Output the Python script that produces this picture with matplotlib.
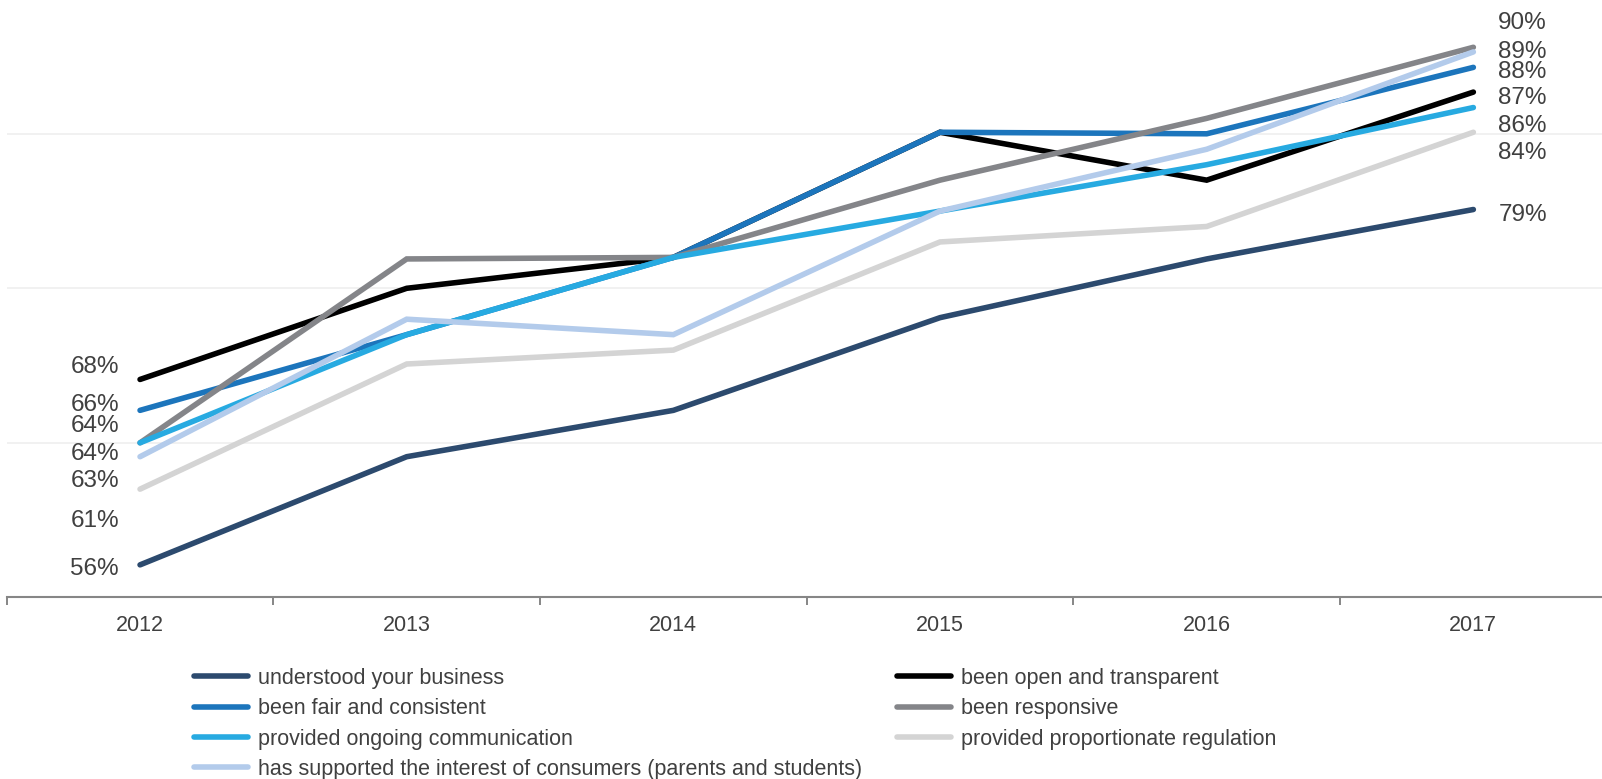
import matplotlib
matplotlib.use("Agg")
import matplotlib.pyplot as plt
from matplotlib.lines import Line2D

plt.rcParams['font.family'] = ['Liberation Sans', 'DejaVu Sans']

years = ["2012", "2013", "2014", "2015", "2016", "2017"]

understood_business = [0.561, 0.631, 0.661, 0.721, 0.759, 0.791]
open_transparent = [0.681, 0.740, 0.760, 0.841, 0.810, 0.867]
fair_consistent = [0.661, 0.710, 0.760, 0.841, 0.840, 0.883]
responsive = [0.640, 0.759, 0.760, 0.810, 0.850, 0.896]
ongoing_communication = [0.640, 0.710, 0.760, 0.790, 0.820, 0.857]
proportionate_regulation = [0.610, 0.691, 0.700, 0.770, 0.780, 0.841]
consumer_interest = [0.631, 0.720, 0.710, 0.790, 0.830, 0.893]

# series in drawing order: (values, legend text, colour,
#  left label shift px, right label shift px)
series = [
    (understood_business, "understood your business", "#2C4A6E", -4, -5),
    (open_transparent, "been open and transparent", "#000000", 12, -6),
    (fair_consistent, "been fair and consistent", "#1C75BC", 5, -5),
    (responsive, "been responsive", "#848589", 17, 24),
    (ongoing_communication, "provided ongoing communication", "#27AAE1", -11, -18),
    (proportionate_regulation, "provided proportionate regulation", "#D4D4D4", -32, -21),
    (consumer_interest, "has supported the interest of consumers (parents and students)",
     "#B3CBEB", -24, 0),
]

W, H = 1602, 779
LW = 4.0
fig = plt.figure(figsize=(W / 100, H / 100), dpi=100)
ax_left = 6.7 / W
ax_bottom = (H - 597.3) / H
ax = fig.add_axes([ax_left, ax_bottom, 1600 / W, 0.39 * 1545 / H])

x = list(range(len(years)))
handles = {}
for vals, name, color, dl, dr in series:
    ln, = ax.plot(x, vals, color=color, lw=LW, solid_capstyle='round',
                  solid_joinstyle='miter', label=name, clip_on=False)
    handles[name] = ln
    ax.annotate(f"{round(vals[0] * 100)}%", (x[0], vals[0]), xytext=(-21, dl),
                textcoords='offset pixels', ha='right', va='center',
                fontsize=17.5, color='#404040', annotation_clip=False)
    ax.annotate(f"{round(vals[-1] * 100)}%", (x[-1], vals[-1]), xytext=(25, dr),
                textcoords='offset pixels', ha='left', va='center',
                fontsize=17.5, color='#404040', annotation_clip=False)

ax.set_xlim(-0.5, len(years) - 0.5)
ax.set_ylim(0.54, 0.93)
ax.set_yticks([0.64, 0.74, 0.84])
ax.yaxis.grid(True, color='#EDEDED', lw=1.1)
ax.set_axisbelow(True)
ax.tick_params(axis='y', left=False, labelleft=False)

ax.set_xticks(x)
ax.set_xticklabels(years, fontsize=15.5, color='#404040')
ax.set_xticks([i - 0.5 for i in range(len(years) + 1)], minor=True)
ax.tick_params(axis='x', which='major', length=0, pad=13)
ax.tick_params(axis='x', which='minor', length=6, width=1.4, color='#868686',
               direction='out')

for s in ['top', 'right', 'left']:
    ax.spines[s].set_visible(False)
ax.spines['bottom'].set_color('#868686')
ax.spines['bottom'].set_linewidth(1.5)

left_names = [series[i][1] for i in (0, 2, 4, 6)]
right_names = [series[i][1] for i in (1, 3, 5)]

leg_style = dict(frameon=False, fontsize=15.5, borderpad=0, borderaxespad=0,
                 labelspacing=0.43, labelcolor='#404040', loc='upper left',
                 handlelength=2.5, handletextpad=0.47,
                 bbox_transform=fig.transFigure)

leg1 = fig.legend([Line2D([], [], color=handles[n].get_color(), lw=LW,
                          solid_capstyle='round') for n in left_names],
                  left_names, bbox_to_anchor=(194 / W, (H - 668) / H), **leg_style)
leg2 = fig.legend([Line2D([], [], color=handles[n].get_color(), lw=LW,
                          solid_capstyle='round') for n in right_names],
                  right_names, bbox_to_anchor=(897 / W, (H - 668) / H), **leg_style)

fig.savefig("out.png", dpi=100)
